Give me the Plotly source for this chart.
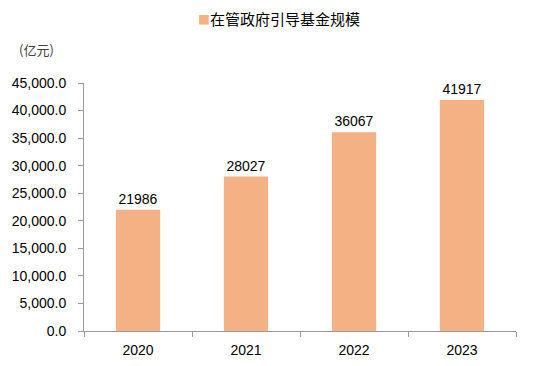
import plotly.graph_objects as go

years = ["2020", "2021", "2022", "2023"]
values = [21986, 28027, 36067, 41917]
series_name = "在管政府引导基金规模"
y_ticks = [0, 5000, 10000, 15000, 20000, 25000, 30000, 35000, 40000, 45000]
bar_color = "#F4B183"

fig = go.Figure()
fig.add_trace(go.Bar(
    x=years, y=values, name=series_name,
    marker=dict(color=bar_color, line=dict(width=0)),
    width=0.41,
    text=[str(v) for v in values], textposition="outside",
    textfont=dict(size=14, color="#000000", family="Liberation Sans, Arial"),
    cliponaxis=False,
))

# page body has an 8px default margin; figure is sized to fill the window
fig.update_layout(
    width=526, height=358,
    margin=dict(l=76, r=18, t=75, b=35),
    plot_bgcolor="white", paper_bgcolor="white",
    font=dict(family="Liberation Sans, Arial, Noto Sans CJK SC", size=14, color="#000000"),
    showlegend=False,
)
fig.update_xaxes(
    showline=True, linecolor="#999999", linewidth=1,
    ticks="outside", tickson="boundaries", ticklen=5, tickcolor="#999999",
    showgrid=False, ticklabelstandoff=6, automargin=False,
)
fig.update_yaxes(
    range=[0, 45000], tickvals=y_ticks, tickformat=",.1f",
    showline=True, linecolor="#999999", linewidth=1,
    ticks="outside", ticklen=5, tickcolor="#999999",
    showgrid=False, zeroline=False, ticklabelstandoff=9, automargin=False,
)
fig.add_annotation(
    text=f"<span style='color:{bar_color};font-size:12px'>■</span>{series_name}",
    xref="paper", yref="paper", x=0.451, y=1.262,
    xanchor="center", yanchor="middle", showarrow=False,
    font=dict(size=15, color="#000000", family="Noto Sans CJK SC"))
fig.add_annotation(text="(亿元)", xref="paper", yref="paper", x=-0.11, y=1.135,
                   xanchor="center", yanchor="middle", showarrow=False,
                   font=dict(size=13, color="#404040", family="Noto Sans CJK SC"))
fig.write_html("out.html")
